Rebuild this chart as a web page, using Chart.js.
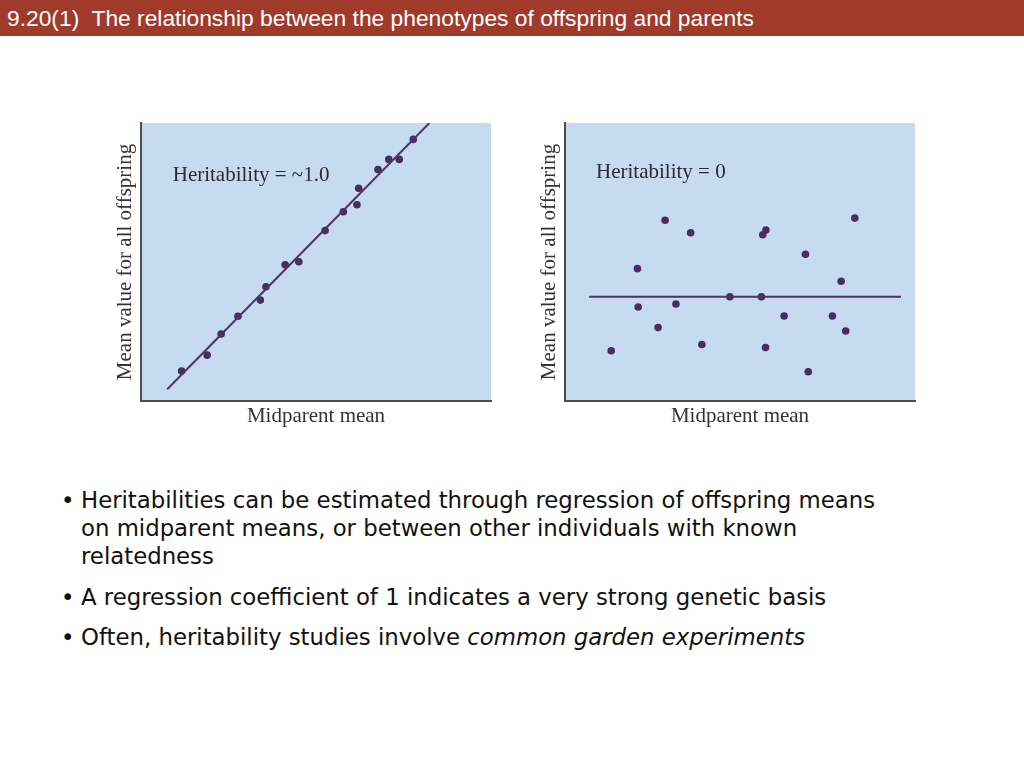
<!DOCTYPE html>
<html>
<head>
<meta charset="utf-8">
<script src="https://cdn.jsdelivr.net/npm/chart.js@4.4.0/dist/chart.umd.min.js"></script>
<style>
body { margin: 0; width: 1024px; height: 768px; background: #fff; position: relative; overflow: hidden; }
#hdr { position: absolute; left: 0; top: 0; width: 1017px; height: 36px; padding-left: 7px; background: #a03b2b; color: #fff;
       font: 22.8px 'Liberation Sans', Arial, sans-serif; line-height: 36px; white-space: pre; }
.box { position: absolute; top: 115px; width: 395px; height: 330px; }
#box1 { left: 100px; }
#box2 { left: 524px; }
.pt { position: absolute; left: 81px; white-space: nowrap;
      font: 22.8px 'DejaVu Sans', sans-serif; line-height: 28px; color: #111; }
.pt b { position: absolute; left: -20px; top: 0; font-weight: normal; }
</style>
</head>
<body>
<div id="hdr">9.20(1)  The relationship between the phenotypes of offspring and parents</div>
<div class="box" id="box1"><canvas id="c1" width="395" height="330"></canvas></div>
<div class="box" id="box2"><canvas id="c2" width="395" height="330"></canvas></div>
<div class="pt" style="top:486px;"><b>•</b>Heritabilities can be estimated through regression of offspring means<br>on midparent means, or between other individuals with known<br>relatedness</div>
<div class="pt" style="top:583px;"><b>•</b>A regression coefficient of 1 indicates a very strong genetic basis</div>
<div class="pt" style="top:623px;"><b>•</b>Often, heritability studies involve <i>common garden experiments</i></div>
<script>
// heritability ~1.0 panel
let hiX = [11.6, 18.9, 22.9, 27.7, 34.1, 35.7, 41.2, 45.1, 52.6, 57.8, 61.7, 62.2, 67.7, 70.8, 73.8, 77.8];
let hiY = [10.8, 16.5, 24.1, 30.5, 36.3, 41.1, 49.0, 50.1, 61.3, 68.1, 70.6, 76.5, 83.3, 86.9, 86.9, 94.1];
let hiFitX = [7.5, 82.4];
let hiFitY = [4.2, 100];
// heritability 0 panel
let zeroX = [13.2, 20.7, 20.9, 26.6, 28.6, 31.7, 35.9, 39.1, 47.1, 56.1, 56.5, 57.4, 57.3, 62.6, 68.7, 69.5, 76.4, 78.9, 80.2, 82.8];
let zeroY = [18.1, 47.6, 33.8, 26.4, 65.0, 34.9, 60.5, 20.3, 37.5, 37.5, 59.8, 61.5, 19.2, 30.6, 52.8, 10.5, 30.6, 43.1, 25.2, 65.8];
let zeroFitX = [6.9, 96.0];
let zeroFitY = [37.5, 37.5];

let xTitle = 'Midparent mean';
let yTitle = 'Mean value for all offspring';
let notes = ['Heritability = ~1.0', 'Heritability = 0'];

function pairs(xs, ys) {
    return xs.map((v, i) => ({ x: v, y: ys[i] }));
}

const plotBg = {
    id: 'plotBg',
    beforeDraw(chart) {
        let a = chart.chartArea;
        let ctx = chart.ctx;
        ctx.save();
        ctx.fillStyle = '#c6daf0';
        ctx.fillRect(a.left, a.top, a.right - a.left, a.bottom - a.top);
        ctx.restore();
    }
};

const noteText = {
    id: 'noteText',
    afterDatasetsDraw(chart, args, opts) {
        let ctx = chart.ctx;
        ctx.save();
        ctx.font = '21px "Liberation Serif"';
        ctx.fillStyle = '#2b2b33';
        ctx.textBaseline = 'alphabetic';
        ctx.fillText(opts.text, chart.scales.x.getPixelForValue(opts.x), chart.scales.y.getPixelForValue(opts.y));
        ctx.restore();
    }
};

function make_chart(id, xs, ys, fx, fy, note, nx, ny) {
    let titleFont = { family: 'Liberation Serif', size: 21 };
    return new Chart(document.getElementById(id), {
        type: 'scatter',
        data: {
            datasets: [
                {
                    data: pairs(fx, fy),
                    showLine: true,
                    borderColor: '#4a3564',
                    borderWidth: 2,
                    pointRadius: 0
                },
                {
                    data: pairs(xs, ys),
                    backgroundColor: '#4a2d5f',
                    borderWidth: 0,
                    pointRadius: 3.8
                }
            ]
        },
        options: {
            responsive: false,
            animation: false,
            layout: { padding: { left: 5, right: 4, top: 8, bottom: 0 } },
            scales: {
                x: {
                    type: 'linear', min: 0, max: 100,
                    ticks: { display: false },
                    grid: { display: false },
                    border: { display: true, color: '#4d4d4d', width: 2 },
                    title: { display: true, text: xTitle, color: '#333', font: titleFont, padding: { top: 0, bottom: 16 } },
                    afterFit(s) { s.height = 44; }
                },
                y: {
                    type: 'linear', min: 0, max: 100,
                    ticks: { display: false },
                    grid: { display: false },
                    border: { display: true, color: '#4d4d4d', width: 2 },
                    title: { display: true, text: yTitle, color: '#333', font: titleFont, padding: { top: 8, bottom: 0 } },
                    afterFit(s) { s.width = 36; }
                }
            },
            plugins: {
                legend: { display: false },
                tooltip: { enabled: false },
                noteText: { text: note, x: nx, y: ny }
            }
        },
        plugins: [plotBg, noteText]
    });
}

make_chart('c1', hiX, hiY, hiFitX, hiFitY, notes[0], 9.06, 79.2);
make_chart('c2', zeroX, zeroY, zeroFitX, zeroFitY, notes[1], 8.86, 80.1);
</script>
</body>
</html>
